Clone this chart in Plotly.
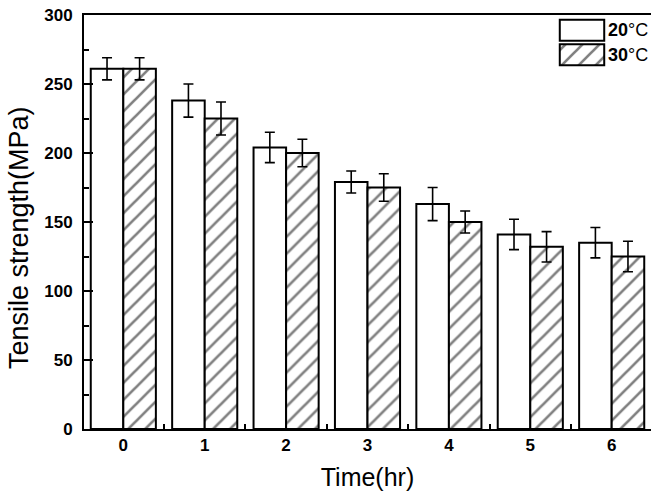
import plotly.graph_objects as go

times = [0, 1, 2, 3, 4, 5, 6]
tick_labels = ["0", "1", "2", "3", "4", "5", "6"]
s20 = [261, 238, 204, 179, 163, 141, 135]
e20 = [8, 12, 11, 8, 12, 11, 11]
s30 = [261, 225, 200, 175, 150, 132, 125]
e30 = [8, 12, 10, 10, 8, 11, 11]
legend_names = ["<b>20</b>°C", "<b>30</b>°C"]
x_title = "Time(hr)"
y_title = "Tensile strength(MPa)"

FONT = "Liberation Sans, Arial, sans-serif"
HATCH = dict(fgcolor="black", bgcolor="white", size=12, solidity=0.22)

fig = go.Figure()
fig.add_trace(go.Bar(
    x=times, y=s20, name="20°C", showlegend=False,
    marker=dict(color="white", line=dict(color="black", width=2)),
    error_y=dict(type="data", array=e20, color="black", thickness=1.6, width=5),
))
fig.add_trace(go.Bar(
    x=times, y=s30, name="30°C", showlegend=False,
    marker=dict(color="white", line=dict(color="black", width=2),
                pattern=dict(shape="/", **HATCH)),
    error_y=dict(type="data", array=e30, color="black", thickness=1.6, width=5),
))

# legend swatches drawn as bars on a small hidden subplot
fig.add_trace(go.Bar(
    x=[1, 1], y=[1, 0], orientation="h", base=0, width=0.86,
    xaxis="x2", yaxis="y2", showlegend=False, hoverinfo="skip",
    marker=dict(color="white", line=dict(color="black", width=2),
                pattern=dict(shape=["", "/"], **HATCH)),
))

W, H = 651, 493
L, R, T, B = 84, 0, 15, 64
pw, ph = W - L - R, H - T - B

def px_x(x):
    return (x - L) / pw

def px_y(y):
    return (H - B - y) / ph

x2a, x2b = px_x(558), px_x(606)
y2a, y2b = px_y(67), px_y(18)

fig.update_layout(
    width=W, height=H,
    margin=dict(l=L, r=R, t=T, b=B),
    paper_bgcolor="white", plot_bgcolor="white",
    barmode="group", bargap=0.2, bargroupgap=0,
    font=dict(family=FONT, color="black"),
    xaxis=dict(
        range=[-0.483, 6.483], tickvals=times, ticktext=tick_labels,
        ticks="", showgrid=False, zeroline=False,
        showline=True, linecolor="black", linewidth=2, mirror=True,
        tickfont=dict(size=17, family=FONT, weight="bold"),
        minor=dict(tickvals=[0.5, 1.5, 2.5, 3.5, 4.5, 5.5], ticks="inside",
                   ticklen=5, tickwidth=1.5, tickcolor="black"),
        title=dict(text=x_title, font=dict(size=25, family=FONT), standoff=14),
    ),
    yaxis=dict(
        range=[0, 300], dtick=50, tick0=0,
        ticks="inside", ticklen=9, tickwidth=2, tickcolor="black",
        showgrid=False, zeroline=False,
        showline=True, linecolor="black", linewidth=2, mirror=False,
        tickfont=dict(size=17, family=FONT, weight="bold"),
        ticklabelstandoff=6,
        minor=dict(dtick=25, ticks="inside", ticklen=5, tickwidth=1.5, tickcolor="black"),
    ),
    xaxis2=dict(domain=[x2a, x2b], anchor="y2", range=[-0.04, 1.04], visible=False, fixedrange=True),
    yaxis2=dict(domain=[y2a, y2b], anchor="x2", range=[-0.5, 1.5], visible=False, fixedrange=True),
    annotations=[
        dict(xref="paper", yref="paper", x=px_x(19), y=px_y(238), text=y_title, textangle=-90,
             showarrow=False, xanchor="center", yanchor="middle", font=dict(size=27, family=FONT)),
        dict(xref="paper", yref="paper", x=px_x(606), y=px_y(30), text=legend_names[0],
             showarrow=False, xanchor="left", yanchor="middle", font=dict(size=18, family=FONT)),
        dict(xref="paper", yref="paper", x=px_x(606), y=px_y(55), text=legend_names[1],
             showarrow=False, xanchor="left", yanchor="middle", font=dict(size=18, family=FONT)),
    ],
)

fig.write_html("out.html")
